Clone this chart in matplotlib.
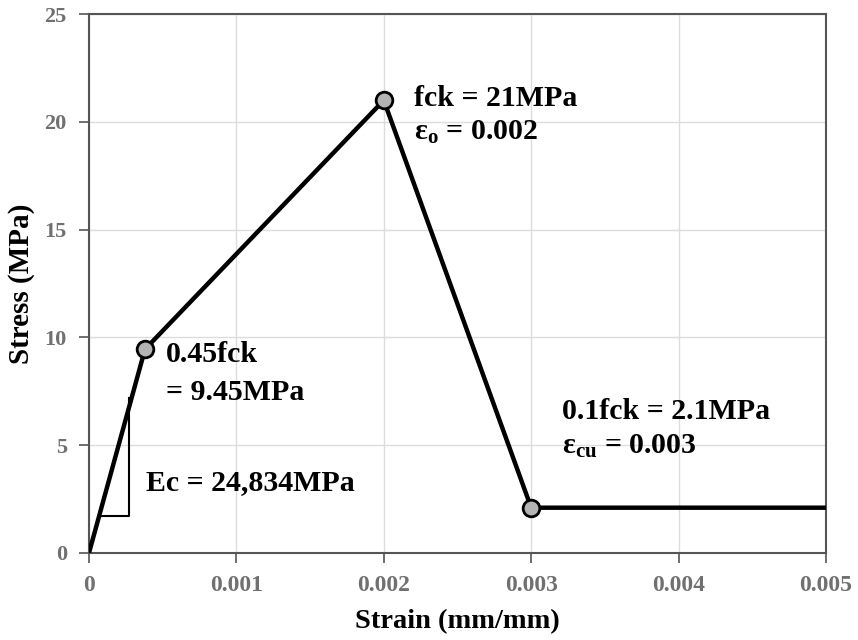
#####################################
#   Concrete stress-strain model    #
#####################################

import matplotlib
matplotlib.use("Agg")
import matplotlib.pyplot as plt

# Fonts: bold serif everywhere, subscripts through mathtext
plt.rcParams['font.family'] = ['Liberation Serif', 'DejaVu Serif']
plt.rcParams['mathtext.fontset'] = 'custom'
plt.rcParams['mathtext.rm'] = 'Liberation Serif:bold'
plt.rcParams['mathtext.it'] = 'Liberation Serif:bold'
plt.rcParams['mathtext.bf'] = 'Liberation Serif:bold'

# Model curve (strain in mm/mm, stress in MPa)
strain = [0, 0.00038, 0.002, 0.003, 0.005]
stress = [0, 9.45, 21.0, 2.1, 2.1]

# Key points marked on the curve
key_strain = [0.00038, 0.002, 0.003]
key_stress = [9.45, 21.0, 2.1]

# Slope triangle for Ec
tri_x = [0.00008, 0.000271, 0.000271]
tri_y = [1.72, 1.72, 7.17]

xticks = [0, 0.001, 0.002, 0.003, 0.004, 0.005]
xtick_labels = ['0', '0.001', '0.002', '0.003', '0.004', '0.005']
yticks = [0, 5, 10, 15, 20, 25]

fig = plt.figure(figsize=(8.58, 6.4), dpi=100)
ax = fig.add_axes([0.1037, 0.136, 0.859, 0.842])

ax.plot(tri_x, tri_y, color='black', lw=1.5, zorder=2)
ax.plot(strain, stress, color='black', lw=3.2, solid_joinstyle='miter', zorder=3)
ax.plot(key_strain, key_stress, 'o', ms=12, mfc='#b4b4b4', mec='black', mew=2, zorder=4)

ax.set_xlim(0, 0.005)
ax.set_ylim(0, 25)
ax.set_xticks(xticks)
ax.set_xticklabels(xtick_labels)
ax.set_yticks(yticks)
ax.grid(True, color='#dcdcdc', lw=1)
ax.set_axisbelow(True)

for s in ax.spines.values():
    s.set_color('#555555')
    s.set_linewidth(1.5)

ax.tick_params(axis='both', direction='out', length=7, width=1.2, color='#555555',
               labelcolor='#707070')
ax.tick_params(axis='x', pad=9, labelsize=17)
ax.tick_params(axis='y', pad=9, labelsize=16)
for lbl in ax.get_xticklabels() + ax.get_yticklabels():
    lbl.set_fontweight('bold')

ax.set_xlabel('Strain (mm/mm)', fontsize=20.5, fontweight='bold', labelpad=9)
ax.set_ylabel('Stress (MPa)', fontsize=21, fontweight='bold', labelpad=7)

# Annotations
txt = dict(fontsize=21.5, fontweight='bold', va='center', ha='left')
ax.text(0.002205, 21.1, 'fck = 21MPa', **txt)
ax.text(0.002205, 19.5, r'$\mathrm{ε_o}$ = 0.002', **txt)
ax.text(0.000522, 9.2, '0.45fck', **txt)
ax.text(0.000522, 7.45, '= 9.45MPa', **txt)
ax.text(0.000387, 3.26, 'Ec = 24,834MPa', **txt)
ax.text(0.003209, 6.56, '0.1fck = 2.1MPa', **txt)
ax.text(0.003209, 4.93, r'$\mathrm{ε_{cu}}$ = 0.003', **txt)

plt.savefig('out.png', dpi=100)
print("Saved plot")
